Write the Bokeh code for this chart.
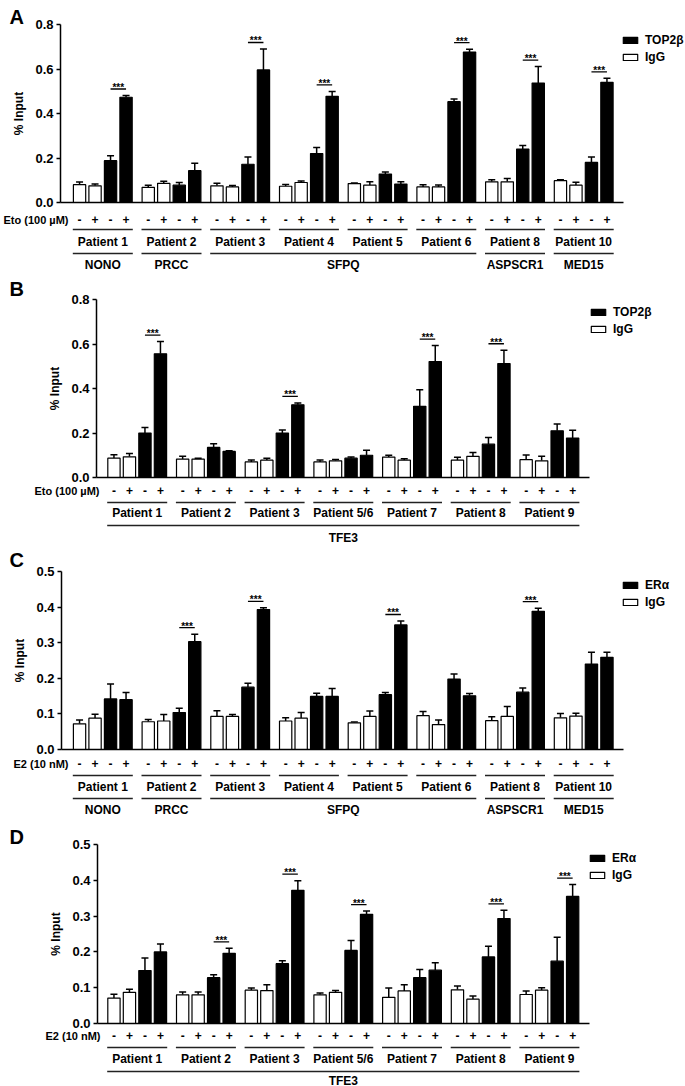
import numpy as np
from bokeh.plotting import figure
from bokeh.models import (Range1d, LinearAxis, FixedTicker, PrintfTickFormatter,
                          ColumnDataSource, Whisker, TeeHead, Legend, LegendItem)
from bokeh.layouts import column
from bokeh.embed import file_html
from bokeh.resources import INLINE
from bokeh.core.properties import value

SANS = "Liberation Sans"

SIGNS = ["-", "+", "-", "+"]

# ---------------- Panel A : TOP2beta, etoposide ----------------
A_patients = ["Patient 1", "Patient 2", "Patient 3", "Patient 4", "Patient 5",
              "Patient 6", "Patient 8", "Patient 10"]
A_genes = ["NONO", "PRCC", "SFPQ", "SFPQ", "SFPQ", "SFPQ", "ASPSCR1", "MED15"]
A_igg_neg = [0.080, 0.068, 0.075, 0.073, 0.085, 0.070, 0.093, 0.098]
A_igg_neg_err = [0.012, 0.010, 0.012, 0.008, 0.003, 0.010, 0.009, 0.004]
A_igg_pos = [0.075, 0.086, 0.070, 0.090, 0.078, 0.070, 0.093, 0.078]
A_igg_pos_err = [0.008, 0.010, 0.006, 0.007, 0.015, 0.009, 0.015, 0.013]
A_tgt_neg = [0.188, 0.078, 0.172, 0.220, 0.128, 0.453, 0.240, 0.180]
A_tgt_neg_err = [0.022, 0.012, 0.033, 0.027, 0.009, 0.012, 0.016, 0.024]
A_tgt_pos = [0.473, 0.143, 0.596, 0.477, 0.083, 0.676, 0.537, 0.540]
A_tgt_pos_err = [0.008, 0.033, 0.094, 0.022, 0.010, 0.013, 0.074, 0.018]
A_sig = [1, 0, 1, 1, 0, 1, 1, 1]
A_yticks = [0.0, 0.2, 0.4, 0.6, 0.8]

# ---------------- Panel B : TOP2beta, etoposide, TFE3 ----------------
B_patients = ["Patient 1", "Patient 2", "Patient 3", "Patient 5/6", "Patient 7",
              "Patient 8", "Patient 9"]
B_genes = ["TFE3"] * 7
B_igg_neg = [0.087, 0.083, 0.070, 0.070, 0.092, 0.078, 0.080]
B_igg_neg_err = [0.015, 0.013, 0.009, 0.009, 0.008, 0.013, 0.021]
B_igg_pos = [0.093, 0.083, 0.078, 0.075, 0.078, 0.095, 0.075]
B_igg_pos_err = [0.015, 0.004, 0.009, 0.006, 0.006, 0.017, 0.020]
B_tgt_neg = [0.200, 0.135, 0.200, 0.087, 0.320, 0.150, 0.210]
B_tgt_neg_err = [0.025, 0.017, 0.013, 0.005, 0.074, 0.030, 0.030]
B_tgt_pos = [0.556, 0.117, 0.327, 0.100, 0.521, 0.512, 0.177]
B_tgt_pos_err = [0.055, 0.003, 0.008, 0.023, 0.072, 0.060, 0.035]
B_sig = [1, 0, 1, 0, 1, 1, 0]
B_yticks = [0.0, 0.2, 0.4, 0.6, 0.8]

# ---------------- Panel C : ER alpha, E2 ----------------
C_patients = ["Patient 1", "Patient 2", "Patient 3", "Patient 4", "Patient 5",
              "Patient 6", "Patient 8", "Patient 10"]
C_genes = ["NONO", "PRCC", "SFPQ", "SFPQ", "SFPQ", "SFPQ", "ASPSCR1", "MED15"]
C_igg_neg = [0.072, 0.078, 0.093, 0.080, 0.075, 0.095, 0.081, 0.089]
C_igg_neg_err = [0.011, 0.006, 0.016, 0.009, 0.002, 0.012, 0.011, 0.012]
C_igg_pos = [0.088, 0.080, 0.093, 0.088, 0.093, 0.070, 0.093, 0.094]
C_igg_pos_err = [0.011, 0.018, 0.005, 0.016, 0.015, 0.013, 0.028, 0.008]
C_tgt_neg = [0.142, 0.104, 0.175, 0.149, 0.154, 0.198, 0.161, 0.240]
C_tgt_neg_err = [0.042, 0.012, 0.011, 0.009, 0.006, 0.014, 0.012, 0.033]
C_tgt_pos = [0.140, 0.303, 0.393, 0.149, 0.350, 0.151, 0.388, 0.259]
C_tgt_pos_err = [0.020, 0.021, 0.005, 0.022, 0.011, 0.006, 0.009, 0.014]
C_sig = [0, 1, 1, 0, 1, 0, 1, 0]
C_yticks = [0.0, 0.1, 0.2, 0.3, 0.4, 0.5]

# ---------------- Panel D : ER alpha, E2, TFE3 ----------------
D_patients = ["Patient 1", "Patient 2", "Patient 3", "Patient 5/6", "Patient 7",
              "Patient 8", "Patient 9"]
D_genes = ["TFE3"] * 7
D_igg_neg = [0.071, 0.080, 0.093, 0.080, 0.073, 0.094, 0.081]
D_igg_neg_err = [0.011, 0.008, 0.006, 0.005, 0.026, 0.011, 0.010]
D_igg_pos = [0.087, 0.080, 0.092, 0.087, 0.091, 0.068, 0.093]
D_igg_pos_err = [0.009, 0.008, 0.016, 0.005, 0.017, 0.009, 0.007]
D_tgt_neg = [0.148, 0.128, 0.167, 0.204, 0.128, 0.186, 0.174]
D_tgt_neg_err = [0.035, 0.008, 0.008, 0.028, 0.023, 0.030, 0.067]
D_tgt_pos = [0.200, 0.196, 0.372, 0.305, 0.149, 0.293, 0.355]
D_tgt_pos_err = [0.022, 0.014, 0.027, 0.009, 0.021, 0.023, 0.033]
D_sig = [0, 1, 1, 1, 0, 1, 1]
D_yticks = [0.0, 0.1, 0.2, 0.3, 0.4, 0.5]

# ---------------- layout constants (pixels) ----------------
W = 685
PX = 15.5             # pixels per bar slot
GROUP = 68.7 / PX     # group pitch in bar slots
BAR_VIS = 13.5        # visible bar width, px
BAR_LW = 1.2
BAR_W = (BAR_VIS - BAR_LW) / PX


def make_panel(letter, target, treatment, patients, genes, igg_neg, igg_neg_err,
               igg_pos, igg_pos_err, tgt_neg, tgt_neg_err, tgt_pos, tgt_pos_err,
               sig, yticks, L):
    T, H = L["T"], L["H"]
    s = (L["zero"] - L["top"]) / yticks[-1]           # px per y unit
    bar0c = L["bar0"] + BAR_VIS / 2.0

    def X(pg):
        return (pg - bar0c) / PX

    def Y(pg):
        return (L["zero"] - pg) / s

    p = figure(width=W, height=H, x_range=Range1d(X(0), X(W)),
               y_range=Range1d(Y(T + H), Y(T)), output_backend="svg",
               toolbar_location=None, min_border=0, x_axis_location=None,
               y_axis_location=None, outline_line_color=None)
    p.xgrid.visible = False
    p.ygrid.visible = False

    n = len(patients)
    series = [(igg_neg, igg_neg_err, "white"), (igg_pos, igg_pos_err, "white"),
              (tgt_neg, tgt_neg_err, "black"), (tgt_pos, tgt_pos_err, "black")]
    xs, tops, his, cols, signs = [], [], [], [], []
    for g in range(n):
        for k, (v, e, c) in enumerate(series):
            xs.append(g * GROUP + k)
            tops.append(v[g])
            his.append(v[g] + e[g])
            cols.append(c)
            signs.append(SIGNS[k])
    src = ColumnDataSource(dict(x=xs, top=tops, hi=his, color=cols, sign=signs))

    last_x = (n - 1) * GROUP + 3
    axis_x = X(L["axis"])

    # axes
    yax = LinearAxis(fixed_location=axis_x, bounds=(0, yticks[-1]),
                     ticker=FixedTicker(ticks=yticks),
                     formatter=PrintfTickFormatter(format="%.1f"),
                     axis_label="% Input", axis_label_standoff=6,
                     axis_label_text_font=SANS, axis_label_text_font_style="bold",
                     axis_label_text_font_size="12px", axis_label_text_color="black",
                     major_label_text_font=SANS, major_label_text_font_style="bold",
                     major_label_text_font_size="13px", major_label_text_color="black",
                     major_label_standoff=3, major_tick_in=0, major_tick_out=4,
                     minor_tick_line_color=None, axis_line_width=1.5,
                     major_tick_line_width=1.5, axis_line_color="black",
                     major_tick_line_color="black")
    p.add_layout(yax, "left")
    xax = LinearAxis(fixed_location=0, bounds=(axis_x, last_x + 17 / PX),
                     ticker=FixedTicker(ticks=[]), major_tick_line_color=None,
                     minor_tick_line_color=None, major_label_text_font_size="0px",
                     axis_line_width=1.5, axis_line_color="black")
    p.add_layout(xax, "below")

    # bars
    r = p.vbar(x="x", top="top", bottom=0, width=BAR_W, fill_color="color",
               line_color="black", line_width=BAR_LW, source=src)
    wk = Whisker(source=src, base="x", lower="top", upper="hi", dimension="height",
                 line_color="black", line_width=1.5, lower_head=None,
                 upper_head=TeeHead(size=7, line_width=1.5, line_color="black"))
    p.add_layout(wk)

    # significance bars
    sx0, sx1, sy = [], [], []
    for g in range(n):
        if sig[g]:
            sx0.append(g * GROUP + 2)
            sx1.append(g * GROUP + 3)
            sy.append(max(tgt_neg[g] + tgt_neg_err[g], tgt_pos[g] + tgt_pos_err[g]) + 6.5 / s)
    p.segment(x0=sx0, x1=sx1, y0=sy, y1=sy, line_color="black", line_width=1.3)
    p.text(x=[(a + b) / 2 for a, b in zip(sx0, sx1)], y=[v + 1.5 / s for v in sy],
           text=["***"] * len(sy), text_font=value(SANS), text_font_size="10px",
           text_font_style="bold", text_align="center", text_baseline="alphabetic",
           text_color="black")

    rows = L["rows"]
    z = L["zero"]
    txt = dict(text_font=value(SANS), text_font_size="12px", text_font_style="bold",
               text_baseline="middle", text_color="black")
    # +/- row
    p.text(x="x", y=Y(z + rows[0]), text="sign", source=src, text_align="center", **txt)
    txt_small = dict(txt, text_font_size="11px")
    p.text(x=[X(L["treat"])], y=[Y(z + rows[0])], text=[treatment],
           text_align="right", **txt_small)

    half = BAR_VIS / 2 / PX
    gx0 = [g * GROUP - half for g in range(n)]
    gx1 = [g * GROUP + 3 + half for g in range(n)]
    p.segment(x0=gx0, x1=gx1, y0=Y(z + rows[1]), y1=Y(z + rows[1]),
              line_color="#222222", line_width=1.5)
    p.text(x=[g * GROUP + 1.5 for g in range(n)], y=Y(z + rows[2]), text=patients,
           text_align="center", **txt)

    # gene spans (consecutive identical genes merged)
    spans = []
    for g, gene in enumerate(genes):
        if spans and spans[-1][0] == gene:
            spans[-1][2] = g
        else:
            spans.append([gene, g, g])
    p.segment(x0=[gx0[a] for _, a, b in spans], x1=[gx1[b] for _, a, b in spans],
              y0=Y(z + rows[3]), y1=Y(z + rows[3]), line_color="#222222", line_width=1.5)
    p.text(x=[(gx0[a] + gx1[b]) / 2 for _, a, b in spans], y=Y(z + rows[4]),
           text=[gname for gname, _, _ in spans], text_align="center", **txt)

    # panel letter
    p.text(x=[X(9)], y=[Y(L["letter"])], text=[letter], text_font=value(SANS),
           text_font_size="20px", text_font_style="bold", text_align="left",
           text_baseline="top", text_color="black")

    # legend
    lx, ly = L["legend"]
    item_h = 14
    spacing = 3
    leg_h = 2 * item_h + spacing
    leg = Legend(items=[LegendItem(label=target, renderers=[r], index=2),
                        LegendItem(label="IgG", renderers=[r], index=0)],
                 location=(lx, (T + H) - (ly - item_h / 2 + leg_h)),
                 glyph_width=18, glyph_height=8, label_standoff=6, spacing=spacing,
                 padding=0, margin=0, border_line_color=None, background_fill_alpha=0,
                 label_text_font=SANS, label_text_font_style="bold",
                 label_text_font_size="12px", label_height=item_h,
                 label_text_color="black")
    p.add_layout(leg)
    return p


LA = dict(T=0, H=272, zero=202, top=24, axis=60, bar0=72.3, letter=5,
          legend=(621, 40), rows=(17, 27, 39, 51, 62), treat=68)
LB = dict(T=272, H=272, zero=477, top=299, axis=96, bar0=106.7, letter=277,
          legend=(589, 312), rows=(13, 25, 35.5, 48, 60), treat=99)
LC = dict(T=544, H=272, zero=749, top=571, axis=61, bar0=72.3, letter=548,
          legend=(621, 585), rows=(14, 26, 37, 49, 60), treat=68)
LD = dict(T=816, H=270, zero=1023, top=844, axis=97, bar0=106.7, letter=825,
          legend=(588, 858), rows=(12, 24, 35, 48, 57), treat=100)

pA = make_panel("A", "TOP2β", "Eto (100 µM)", A_patients, A_genes, A_igg_neg, A_igg_neg_err,
                A_igg_pos, A_igg_pos_err, A_tgt_neg, A_tgt_neg_err, A_tgt_pos, A_tgt_pos_err,
                A_sig, A_yticks, LA)
pB = make_panel("B", "TOP2β", "Eto (100 µM)", B_patients, B_genes, B_igg_neg, B_igg_neg_err,
                B_igg_pos, B_igg_pos_err, B_tgt_neg, B_tgt_neg_err, B_tgt_pos, B_tgt_pos_err,
                B_sig, B_yticks, LB)
pC = make_panel("C", "ERα", "E2 (10 nM)", C_patients, C_genes, C_igg_neg, C_igg_neg_err,
                C_igg_pos, C_igg_pos_err, C_tgt_neg, C_tgt_neg_err, C_tgt_pos, C_tgt_pos_err,
                C_sig, C_yticks, LC)
pD = make_panel("D", "ERα", "E2 (10 nM)", D_patients, D_genes, D_igg_neg, D_igg_neg_err,
                D_igg_pos, D_igg_pos_err, D_tgt_neg, D_tgt_neg_err, D_tgt_pos, D_tgt_pos_err,
                D_sig, D_yticks, LD)

layout = column(pA, pB, pC, pD, spacing=0)
open("out.html", "w").write(file_html(layout, INLINE))
